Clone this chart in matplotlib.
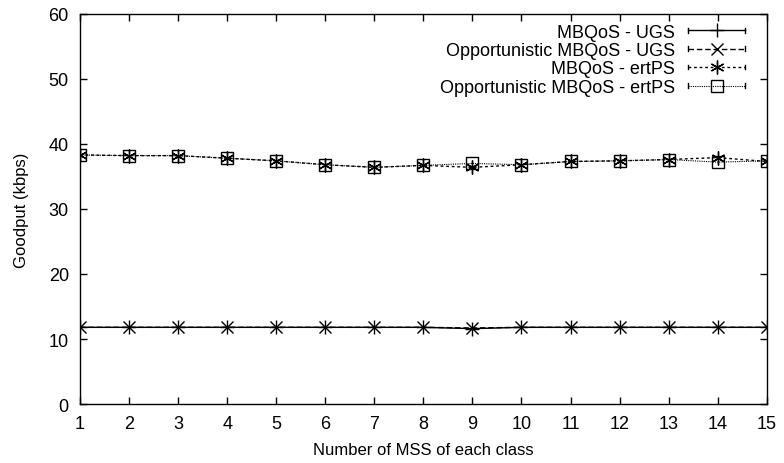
import matplotlib
matplotlib.use("Agg")
import matplotlib.pyplot as plt
from matplotlib.lines import Line2D
from matplotlib.legend_handler import HandlerLine2D

plt.rcParams['font.family'] = ['Liberation Sans', 'DejaVu Sans']

# ====== Data ======
num_mss = list(range(1, 16))

mbqos_ugs = [11.8, 11.8, 11.8, 11.8, 11.8, 11.8, 11.8, 11.8, 11.6, 11.8,
             11.8, 11.8, 11.8, 11.8, 11.8]
opp_mbqos_ugs = [11.8, 11.8, 11.8, 11.8, 11.8, 11.8, 11.8, 11.8, 11.7, 11.8,
                 11.8, 11.8, 11.8, 11.8, 11.8]
mbqos_ertps = [38.3, 38.2, 38.2, 37.8, 37.4, 36.8, 36.4, 36.7, 36.4, 36.8,
               37.3, 37.4, 37.6, 37.9, 37.3]
opp_mbqos_ertps = [38.3, 38.2, 38.2, 37.8, 37.4, 36.8, 36.4, 36.7, 37.0, 36.8,
                   37.3, 37.4, 37.6, 37.2, 37.4]

labels = ['MBQoS - UGS', 'Opportunistic MBQoS - UGS',
          'MBQoS - ertPS', 'Opportunistic MBQoS - ertPS']


# gnuplot-like legend sample: line with small end caps
class CapHandler(HandlerLine2D):
    def create_artists(self, legend, orig_handle, xdescent, ydescent,
                       width, height, fontsize, trans):
        artists = super().create_artists(legend, orig_handle, xdescent, ydescent,
                                         width, height, fontsize, trans)
        yc = height / 2 - ydescent
        h = height * 0.18
        for x in (-xdescent, -xdescent + width):
            artists.append(Line2D([x, x], [yc - h, yc + h], color='black',
                                  linewidth=1, transform=trans))
        return artists


# ====== Plot ======
fig = plt.figure(figsize=(7.84, 4.64), dpi=100)
ax = fig.add_axes([0.102, 0.127, 0.876, 0.841])

ax.plot(num_mss, mbqos_ugs, color='black', linestyle='-', linewidth=1,
        marker='+', markersize=10, markeredgewidth=1, label=labels[0])
ax.plot(num_mss, opp_mbqos_ugs, color='black', linestyle=(0, (4, 2)), linewidth=1,
        marker='x', markersize=8, markeredgewidth=1, label=labels[1])
ax.plot(num_mss, mbqos_ertps, color='black', linestyle=(0, (2, 2)), linewidth=1,
        marker=(6, 2, 0), markersize=10, markeredgewidth=1, label=labels[2])
ax.plot(num_mss, opp_mbqos_ertps, color='black', linestyle=(0, (1, 1)), linewidth=0.8,
        marker='s', markersize=8, markerfacecolor='none', markeredgewidth=1,
        label=labels[3])

ax.set_xlim(1, 15)
ax.set_ylim(0, 60)
ax.set_xticks(num_mss)
ax.set_yticks(range(0, 61, 10))
ax.tick_params(direction='in', top=True, right=True, length=5, width=1,
               labelsize=13, pad=8)
for sp in ax.spines.values():
    sp.set_linewidth(1)

ax.set_xlabel('Number of MSS of each class', fontsize=12, labelpad=7)
ax.set_ylabel('Goodput (kbps)', fontsize=12, labelpad=14)

handles, _ = ax.get_legend_handles_labels()
leg = ax.legend(handles, labels, loc='upper right', bbox_to_anchor=(0.969, 0.975),
                frameon=False, markerfirst=False, fontsize=13,
                handlelength=3.2, labelspacing=0.08, borderpad=0,
                borderaxespad=0, handletextpad=0.7,
                handler_map={Line2D: CapHandler()})

plt.savefig('out.png', dpi=100)
